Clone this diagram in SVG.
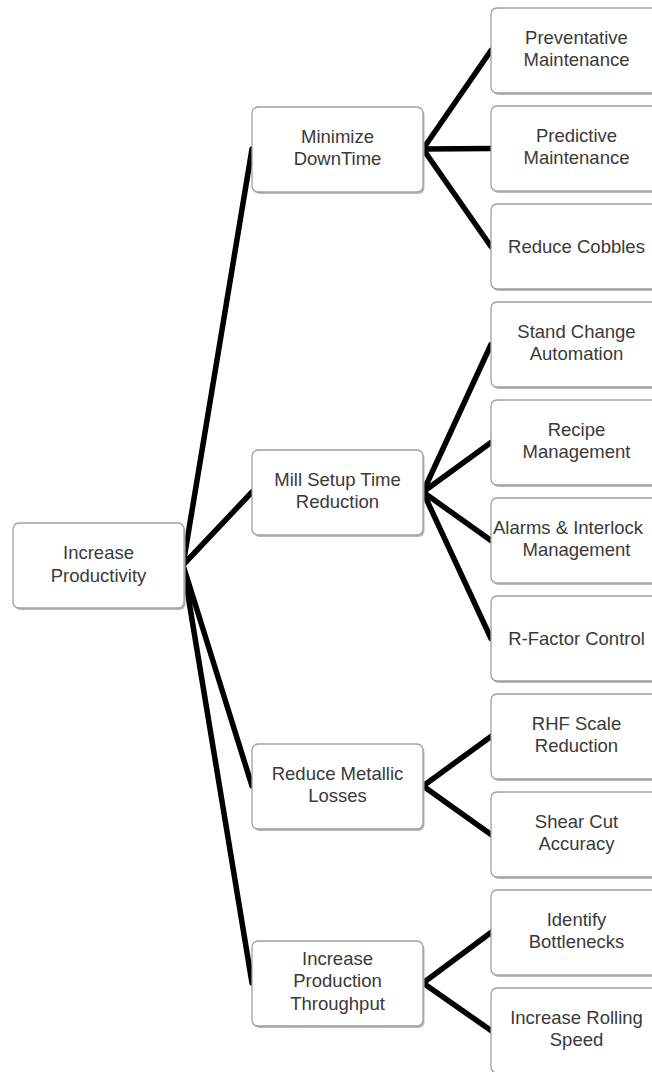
<svg xmlns="http://www.w3.org/2000/svg" width="652" height="1072" viewBox="0 0 652 1072">
<style>
.sh{fill:#b8b8b8}
.bx{fill:#ffffff;stroke:#a0a0a0;stroke-width:1.3}
.t{font-family:"Liberation Sans",Arial,sans-serif;font-size:18.5px;fill:#3a3a3a;text-anchor:middle}
.c{stroke:#000;stroke-width:5.5;stroke-linecap:round;fill:none}
</style>
<defs>
<g id="box"><rect class="sh" x="1.5" y="2" width="171" height="85" rx="6"/><rect class="bx" x="0" y="0" width="171" height="85" rx="6"/></g>
</defs>
<rect width="652" height="1072" fill="#fff"/>
<g id="connectors">
<path class="c" d="M183 565L252 149M183 565L252 492M183 565L252 786M183 565L252 983"/>
<path class="c" d="M423 149L491 50.5M423 149L491 148.5M423 149L491 246.5"/>
<path class="c" d="M423 492L491 344.5M423 492L491 442.5M423 492L491 540.5M423 492L491 638.5"/>
<path class="c" d="M423 786L491 736.5M423 786L491 834.5"/>
<path class="c" d="M423 983L491 932.5M423 983L491 1030.5"/>
</g>
<g id="n-root"><use href="#box" x="13" y="523"/><text class="t" x="98.5" y="559">Increase</text><text class="t" x="98.5" y="582">Productivity</text></g>
<g id="n-downtime"><use href="#box" x="252" y="107"/><text class="t" x="337.5" y="143">Minimize</text><text class="t" x="337.5" y="165">DownTime</text></g>
<g id="n-setup"><use href="#box" x="252" y="450"/><text class="t" x="337.5" y="486">Mill Setup Time</text><text class="t" x="337.5" y="508">Reduction</text></g>
<g id="n-losses"><use href="#box" x="252" y="744"/><text class="t" x="337.5" y="780">Reduce Metallic</text><text class="t" x="337.5" y="802">Losses</text></g>
<g id="n-throughput"><use href="#box" x="252" y="941"/><text class="t" x="337.5" y="965">Increase</text><text class="t" x="337.5" y="987">Production</text><text class="t" x="337.5" y="1010">Throughput</text></g>
<g id="n-prev"><use href="#box" x="491" y="8"/><text class="t" x="576.5" y="44">Preventative</text><text class="t" x="576.5" y="66">Maintenance</text></g>
<g id="n-pred"><use href="#box" x="491" y="106"/><text class="t" x="576.5" y="142">Predictive</text><text class="t" x="576.5" y="164">Maintenance</text></g>
<g id="n-cobbles"><use href="#box" x="491" y="204"/><text class="t" x="576.5" y="253">Reduce Cobbles</text></g>
<g id="n-stand"><use href="#box" x="491" y="302"/><text class="t" x="576.5" y="338">Stand Change</text><text class="t" x="576.5" y="360">Automation</text></g>
<g id="n-recipe"><use href="#box" x="491" y="400"/><text class="t" x="576.5" y="436">Recipe</text><text class="t" x="576.5" y="458">Management</text></g>
<g id="n-alarms"><use href="#box" x="491" y="498"/><text class="t" x="493" y="534" style="text-anchor:start">Alarms &amp; Interlock</text><text class="t" x="576.5" y="556">Management</text></g>
<g id="n-rfactor"><use href="#box" x="491" y="596"/><text class="t" x="576.5" y="645">R-Factor Control</text></g>
<g id="n-rhf"><use href="#box" x="491" y="694"/><text class="t" x="576.5" y="730">RHF Scale</text><text class="t" x="576.5" y="752">Reduction</text></g>
<g id="n-shear"><use href="#box" x="491" y="792"/><text class="t" x="576.5" y="828">Shear Cut</text><text class="t" x="576.5" y="850">Accuracy</text></g>
<g id="n-bottle"><use href="#box" x="491" y="890"/><text class="t" x="576.5" y="926">Identify</text><text class="t" x="576.5" y="948">Bottlenecks</text></g>
<g id="n-speed"><use href="#box" x="491" y="988"/><text class="t" x="576.5" y="1024">Increase Rolling</text><text class="t" x="576.5" y="1046">Speed</text></g>
</svg>
